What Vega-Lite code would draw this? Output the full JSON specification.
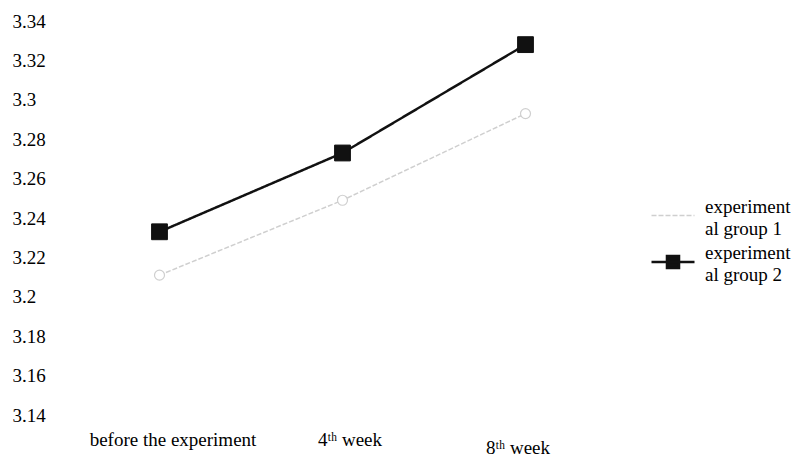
{
  "$schema": "https://vega.github.io/schema/vega-lite/v6.json",
  "description": "Two experimental groups measured before the experiment, at week 4 and week 8.",
  "autosize": "none",
  "width": 549,
  "height": 394,
  "padding": {"left": 68, "top": 21, "right": 176, "bottom": 41},
  "background": "white",
  "config": {
    "view": {"stroke": null},
    "font": "Liberation Serif"
  },
  "data": {
    "values": [
      {"time": "before the experiment", "group": "experimental group 1", "score": 3.211},
      {"time": "4ᵗʰ week", "group": "experimental group 1", "score": 3.249},
      {"time": "8ᵗʰ week", "group": "experimental group 1", "score": 3.293},
      {"time": "before the experiment", "group": "experimental group 2", "score": 3.233},
      {"time": "4ᵗʰ week", "group": "experimental group 2", "score": 3.273},
      {"time": "8ᵗʰ week", "group": "experimental group 2", "score": 3.328}
    ]
  },
  "encoding": {
    "x": {
      "field": "time",
      "type": "ordinal",
      "sort": null,
      "scale": {"type": "point", "padding": 0.5},
      "axis": {
        "title": null,
        "domain": false,
        "ticks": false,
        "labelAngle": 0,
        "labelFontSize": 19,
        "labelColor": "black",
        "labelBaseline": "alphabetic",
        "labelPadding": {"condition": {"test": "datum.value == '8ᵗʰ week'", "value": 38}, "value": 30},
        "labelOffset": {
          "condition": [
            {"test": "datum.value == 'before the experiment'", "value": 13},
            {"test": "datum.value == '4ᵗʰ week'", "value": 7}
          ],
          "value": -8
        }
      }
    },
    "y": {
      "field": "score",
      "type": "quantitative",
      "scale": {"domain": [3.14, 3.34], "zero": false, "nice": false},
      "axis": {
        "title": null,
        "domain": false,
        "ticks": false,
        "grid": false,
        "values": [3.14, 3.16, 3.18, 3.2, 3.22, 3.24, 3.26, 3.28, 3.3, 3.32, 3.34],
        "format": "~g",
        "labelFontSize": 19,
        "labelColor": "black",
        "labelAlign": "left",
        "labelPadding": 56
      }
    }
  },
  "layer": [
    {
      "mark": {"type": "line"},
      "encoding": {
        "color": {
          "field": "group",
          "type": "nominal",
          "scale": {"domain": ["experimental group 1", "experimental group 2"], "range": ["#cfcfcf", "#111111"]},
          "legend": {
            "title": null,
            "orient": "none",
            "legendX": 582,
            "legendY": 172,
            "labelFontSize": 19,
            "labelColor": "black",
            "labelExpr": "[slice(datum.label, 0, 10), slice(datum.label, 10)]",
            "labelLimit": 200,
            "symbolSize": 1849,
            "rowPadding": -4,
            "labelOffset": 9,
            "encode": {
              "labels": {"update": {"dy": {"value": -9}, "lineHeight": {"value": 22}}},
              "symbols": {
                "update": {
                  "shape": {"signal": "datum.value == 'experimental group 2' ? 'M-1,0H1M-0.28,-0.28H0.28V0.28H-0.28Z' : 'M-1,0H1'"},
                  "fill": {"signal": "datum.value == 'experimental group 2' ? '#111111' : 'transparent'"},
                  "stroke": {"signal": "datum.value == 'experimental group 2' ? '#111111' : '#cfcfcf'"},
                  "strokeDash": {"signal": "datum.value == 'experimental group 2' ? [1, 0] : [5, 2]"},
                  "strokeWidth": {"value": 2.5},
                  "size": {"value": 1849},
                  "opacity": {"value": 1}
                }
              }
            }
          }
        },
        "strokeDash": {
          "field": "group",
          "type": "nominal",
          "scale": {"domain": ["experimental group 1", "experimental group 2"], "range": [[5, 2], [1, 0]]},
          "legend": null
        },
        "strokeWidth": {
          "field": "group",
          "type": "nominal",
          "scale": {"domain": ["experimental group 1", "experimental group 2"], "range": [1.5, 2.5]},
          "legend": null
        }
      }
    },
    {
      "transform": [{"filter": "datum.group == 'experimental group 1'"}],
      "mark": {"type": "point", "shape": "circle", "filled": true, "fill": "white", "stroke": "#cfcfcf", "strokeWidth": 1.2, "size": 100, "opacity": 1}
    },
    {
      "transform": [{"filter": "datum.group == 'experimental group 2'"}],
      "mark": {"type": "point", "shape": "square", "filled": true, "fill": "#111111", "stroke": "#111111", "strokeWidth": 1, "size": 250, "opacity": 1}
    }
  ]
}
